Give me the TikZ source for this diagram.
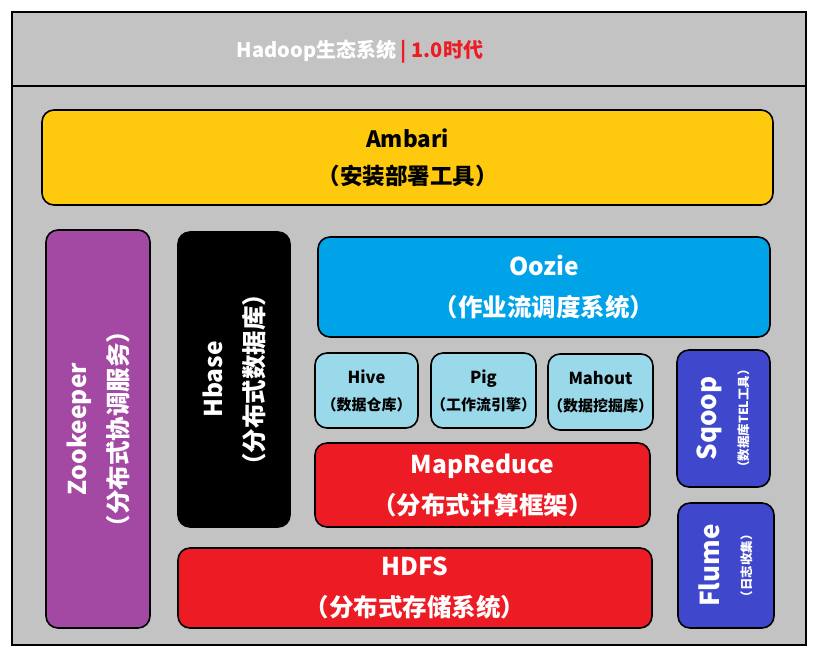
\documentclass[tikz,border=0pt]{standalone}
\usepackage{fontspec}
\setmainfont{Noto Sans CJK SC}
\usepackage{tikz}
\usetikzlibrary{positioning}
\definecolor{bggray}{HTML}{C3C3C3}
\definecolor{ambari}{HTML}{FFC90E}
\definecolor{oozie}{HTML}{00A2E8}
\definecolor{light}{HTML}{99D9EA}
\definecolor{hred}{HTML}{ED1C24}
\definecolor{hblue}{HTML}{3F48CC}
\definecolor{zoo}{HTML}{A349A4}

\begin{document}
\begin{tikzpicture}[x=1pt, y=-1pt, inner sep=0pt,
    box/.style = {draw, line width=1.6pt, rounded corners=12pt, align=center},
    big/.style = {font=\bfseries\fontsize{24.5}{41}\selectfont},
    small/.style = {font=\bfseries\fontsize{15}{27}\selectfont}]
    \useasboundingbox (0,0) rectangle (818,657);
    % Frame
    \node[draw, line width=2pt, fill=bggray, minimum width=794pt, minimum height=633pt] (frame) at (409,328.5) {};
    \node[draw, line width=2pt, fill=bggray, minimum width=794pt, minimum height=74pt] (band) at (409,49) {};
    \node[font=\bfseries\fontsize{20}{24}\selectfont, text=white] (title) at (360,52) {Hadoop生态系统 \textcolor{hred}{| 1.0时代}};
    % Layers
    \node[box, font=\bfseries\fontsize{22.5}{37}\selectfont, fill=ambari, minimum width=731pt, minimum height=95pt] (ambari) at (407.5,157.5) {Ambari\\（安装部署工具）};
    \node[box, big, fill=zoo, text=white, rotate=90, minimum width=398pt, minimum height=104pt] (zookeeper) at (98,429) {Zookeeper\\（分布式协调服务）};
    \node[box, big, fill=black, text=white, rotate=90, minimum width=295pt, minimum height=112pt] (hbase) at (234,379.5) {Hbase\\（分布式数据库）};
    \node[box, big, fill=oozie, text=white, minimum width=452pt, minimum height=100pt] (oozie) at (544,287) {Oozie\\（作业流调度系统）};
    \node[box, small, fill=light, minimum width=103pt, minimum height=75pt] (hive) at (366.5,390.5) {{\fontsize{16.5}{20}\selectfont Hive}\\（数据仓库）};
    \node[box, small, fill=light, minimum width=105pt, minimum height=75pt] (pig) at (483.5,390.5) {{\fontsize{16.5}{20}\selectfont Pig}\\（工作流引擎）};
    \node[box, small, fill=light, minimum width=105pt, minimum height=76pt] (mahout) at (600.5,392) {{\fontsize{16.5}{20}\selectfont Mahout}\\（数据挖掘库）};
    \node[box, big, fill=hred, text=white, minimum width=335pt, minimum height=84pt] (mapreduce) at (482.5,485) {MapReduce\\（分布式计算框架）};
    \node[box, big, fill=hred, text=white, minimum width=474pt, minimum height=80pt] (hdfs) at (415,588) {HDFS\\（分布式存储系统）};
    \node[box, font=\bfseries\fontsize{26}{30}\selectfont, fill=hblue, text=white, rotate=90, minimum width=137pt, minimum height=93pt] (sqoop) at (723.5,418.5) {Sqoop\\[2pt]{\fontsize{12.5}{14}\selectfont （数据库TEL工具）}};
    \node[box, font=\bfseries\fontsize{26}{30}\selectfont, fill=hblue, text=white, rotate=90, minimum width=125pt, minimum height=96pt] (flume) at (726,565.5) {Flume\\[2pt]{\fontsize{12.5}{14}\selectfont （日志收集）}};
\end{tikzpicture}
\end{document}
